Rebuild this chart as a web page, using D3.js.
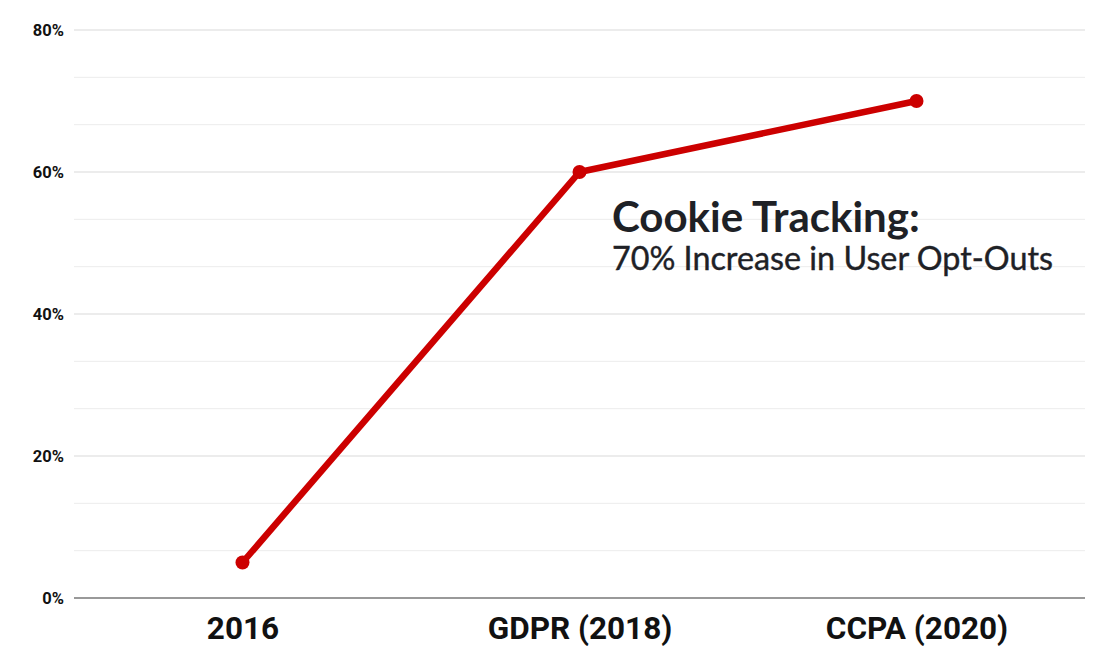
<!DOCTYPE html>
<html><head><meta charset="utf-8">
<script src="https://cdn.jsdelivr.net/npm/d3@7"></script>
<style>body{margin:0;background:#fff;}svg{display:block;}</style>
</head><body>
<svg id="c" width="1095" height="664"></svg>
<script>
const categories = ["2016", "GDPR (2018)", "CCPA (2020)"];
const values = [5, 60, 70];
const yTicks = [0, 20, 40, 60, 80];
const minorTicks = [20/3, 40/3, 80/3, 100/3, 140/3, 160/3, 200/3, 220/3];
const titleLine1 = "Cookie Tracking:";
const titleLine2 = "70% Increase in User Opt-Outs";

(function () {
const svg = d3.select("#c");
const mLeft = 74, mRight = 1085, mTop = 30, mBottom = 598;
const x = d3.scalePoint().domain(categories).range([mLeft, mRight]).padding(0.5);
const y = d3.scaleLinear().domain([0, 80]).range([mBottom, mTop]);

svg.append("g").selectAll("line").data(minorTicks).join("line")
  .attr("x1", mLeft).attr("x2", mRight)
  .attr("y1", d => y(d)).attr("y2", d => y(d))
  .attr("stroke", "#ececec").attr("stroke-width", 1);
svg.append("g").selectAll("line").data(yTicks.filter(d => d > 0)).join("line")
  .attr("x1", mLeft).attr("x2", mRight)
  .attr("y1", d => y(d)).attr("y2", d => y(d))
  .attr("stroke", "#d9d9d9").attr("stroke-width", 1);

const yAxis = svg.append("g").attr("transform", `translate(${mLeft},0)`)
  .call(d3.axisLeft(y).tickValues(yTicks).tickFormat(d => d + "%").tickSize(0).tickPadding(10));
yAxis.select(".domain").remove();
yAxis.selectAll("text").attr("font-family", "Roboto, sans-serif").attr("font-weight", "bold")
  .attr("font-size", 16.5).attr("fill", "#111");

svg.append("line").attr("x1", mLeft).attr("x2", mRight).attr("y1", mBottom).attr("y2", mBottom)
  .attr("stroke", "#777").attr("stroke-width", 1.5);

const xAxis = svg.append("g").attr("transform", `translate(0,${mBottom})`)
  .call(d3.axisBottom(x).tickSize(0).tickPadding(19));
xAxis.select(".domain").remove();
xAxis.selectAll("text").attr("font-family", "Roboto, sans-serif").attr("font-weight", "bold")
  .attr("font-size", 31.5).attr("fill", "#111");

const data = categories.map((c, i) => ({c, v: values[i]}));
svg.append("path").datum(data)
  .attr("fill", "none").attr("stroke", "#cc0000").attr("stroke-width", 6.5)
  .attr("stroke-linejoin", "round")
  .attr("d", d3.line().x(d => x(d.c)).y(d => y(d.v)));
svg.append("g").selectAll("circle").data(data).join("circle")
  .attr("cx", d => x(d.c)).attr("cy", d => y(d.v)).attr("r", 7).attr("fill", "#cc0000");

svg.append("text").attr("x", 612).attr("y", 232).text(titleLine1)
  .attr("font-family", "Lato, sans-serif").attr("font-weight", "bold").attr("font-size", 42).attr("fill", "#1e2126");
svg.append("text").attr("x", 612).attr("y", 270).text(titleLine2)
  .attr("font-family", "Lato, sans-serif").attr("font-size", 32.3).attr("fill", "#1e2126")
  .attr("stroke", "#1e2126").attr("stroke-width", 0.4);
})();
</script>
</body></html>
